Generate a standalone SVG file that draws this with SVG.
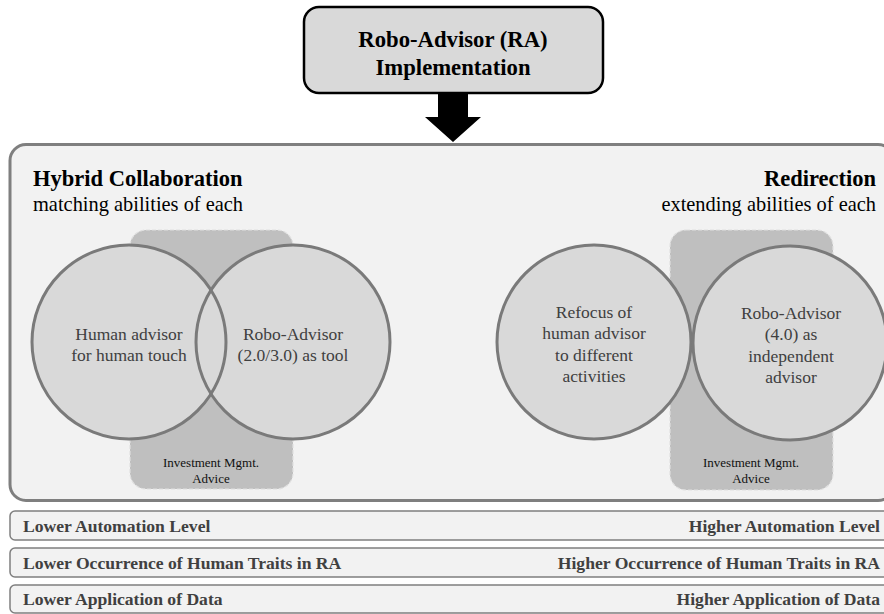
<svg xmlns="http://www.w3.org/2000/svg" width="884" height="614" viewBox="0 0 884 614" font-family="'Liberation Serif', 'DejaVu Serif', serif">
<style>
text{font-family:'Liberation Serif','DejaVu Serif',serif}
.b{font-weight:bold}
.circ{fill:#d9d9d9;stroke:#7a7a7a;stroke-width:3}
.cap{font-size:17.5px;fill:#404040;text-anchor:middle}
.area{fill:#bfbfbf;stroke:#e0e0e0;stroke-width:1.2;stroke-dasharray:4 2}
.ia{font-size:13px;fill:#111;text-anchor:middle}
.bar{fill:#f2f2f2;stroke:#7f7f7f;stroke-width:1.5}
.bt{font-size:17.6px;font-weight:bold;fill:#404040}
</style>
<rect width="884" height="614" fill="#ffffff"/>
<g id="ra">
<rect x="304" y="7" width="299" height="86" rx="15" fill="#d9d9d9" stroke="#000" stroke-width="2.5"/>
<text class="b" x="453" y="47" font-size="22.7" text-anchor="middle">Robo-Advisor (RA)</text>
<text class="b" x="453" y="75" font-size="22.7" text-anchor="middle">Implementation</text>
</g>
<g id="connectors">
<polygon points="438,93 468,93 468,117 481,117 453,142 425,117 438,117" fill="#000"/>
</g>
<g id="panel">
<rect x="10" y="144.5" width="884" height="356" rx="16" fill="#f2f2f2" stroke="#7f7f7f" stroke-width="3"/>
<text class="b" x="33" y="186" font-size="22.5">Hybrid Collaboration</text>
<text x="33" y="211" font-size="20.4">matching abilities of each</text>
<text class="b" x="876" y="186" font-size="22.5" text-anchor="end">Redirection</text>
<text x="876" y="211" font-size="20.4" text-anchor="end">extending abilities of each</text>
</g>
<g id="hybrid">
<rect class="area" x="130" y="230" width="163" height="259" rx="16"/>
<circle class="circ" cx="129" cy="342" r="97"/>
<circle class="circ" cx="293" cy="342" r="97"/>
<path d="M211,290.2 A97,97 0 0 1 211,393.8" fill="none" stroke="#7a7a7a" stroke-width="3"/>
<text class="cap" x="129" y="340">Human advisor</text>
<text class="cap" x="129" y="361">for human touch</text>
<text class="cap" x="293" y="340">Robo-Advisor</text>
<text class="cap" x="293" y="361">(2.0/3.0) as tool</text>
<text class="ia" x="211" y="467">Investment Mgmt.</text>
<text class="ia" x="211" y="483">Advice</text>
</g>
<g id="redirection">
<rect class="area" x="670" y="230" width="163" height="260" rx="16"/>
<circle class="circ" cx="594" cy="342" r="97"/>
<circle class="circ" cx="790" cy="343" r="97"/>
<text class="cap" x="594" y="318">Refocus of</text>
<text class="cap" x="594" y="339">human advisor</text>
<text class="cap" x="594" y="361">to different</text>
<text class="cap" x="594" y="382">activities</text>
<text class="cap" x="791" y="319">Robo-Advisor</text>
<text class="cap" x="791" y="340">(4.0) as</text>
<text class="cap" x="791" y="362">independent</text>
<text class="cap" x="791" y="383">advisor</text>
<text class="ia" x="751" y="467">Investment Mgmt.</text>
<text class="ia" x="751" y="483">Advice</text>
</g>
<g id="scale1">
<rect class="bar" x="10" y="511" width="884" height="29" rx="5"/>
<text class="bt" x="23" y="532">Lower Automation Level</text>
<text class="bt" x="880" y="532" text-anchor="end">Higher Automation Level</text>
</g>
<g id="scale2">
<rect class="bar" x="10" y="548" width="884" height="29" rx="5"/>
<text class="bt" x="23" y="569">Lower Occurrence of Human Traits in RA</text>
<text class="bt" x="880" y="569" text-anchor="end">Higher Occurrence of Human Traits in RA</text>
</g>
<g id="scale3">
<rect class="bar" x="10" y="585" width="884" height="28" rx="5"/>
<text class="bt" x="23" y="605">Lower Application of Data</text>
<text class="bt" x="880" y="605" text-anchor="end">Higher Application of Data</text>
</g>
</svg>
